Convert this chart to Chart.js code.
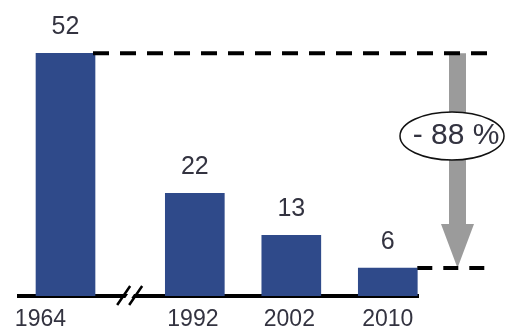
<!DOCTYPE html>
<html>
<head>
<meta charset="utf-8">
<script src="https://cdn.jsdelivr.net/npm/chart.js@4/dist/chart.umd.min.js"></script>
<style>
  body { margin: 0; background: #fff; }
  #wrap { width: 506px; height: 329px; }
</style>
</head>
<body>
<div id="wrap"><canvas id="chart" width="506" height="329"></canvas></div>
<script>
const years = ['1964', '1992', '2002', '2010'];
const values = [52, 22, 13, 6];
// x slots on a linear axis, the gap after 1964 is the axis break
const slots = [0, 1.34, 2.34, 3.34];
const tickSlots = [-0.26, 1.32, 2.32, 3.34];
const changeLabel = '- 88 %';

const barColor = '#2f4a8a';
const textColor = '#333340';

const overlay = {
  id: 'overlay',
  afterDatasetsDraw(chart) {
    const ctx = chart.ctx;
    const y = chart.scales.y;
    const area = chart.chartArea;
    const bars = chart.getDatasetMeta(0).data;
    const first = bars[0], last = bars[bars.length - 1];
    const yTop = y.getPixelForValue(values[0]);
    const yLow = y.getPixelForValue(values[values.length - 1]);
    const endX = area.right + 70;
    const arrowX = area.right + 39.5;

    ctx.save();

    // value labels
    ctx.fillStyle = textColor;
    ctx.font = '25px "Liberation Sans", Arial, sans-serif';
    ctx.textAlign = 'center';
    ctx.textBaseline = 'alphabetic';
    bars.forEach((b, i) => {
      ctx.fillText(String(values[i]), b.x, b.y - 19);
    });

    // grey arrow
    ctx.fillStyle = '#9b9b9b';
    const headY = yLow - 44;
    ctx.beginPath();
    ctx.moveTo(arrowX - 8.5, yTop);
    ctx.lineTo(arrowX + 8.5, yTop);
    ctx.lineTo(arrowX + 8.5, headY);
    ctx.lineTo(arrowX + 16.5, headY);
    ctx.lineTo(arrowX, yLow);
    ctx.lineTo(arrowX - 16.5, headY);
    ctx.lineTo(arrowX - 8.5, headY);
    ctx.closePath();
    ctx.fill();

    // dashed reference lines
    ctx.strokeStyle = '#000';
    ctx.lineWidth = 4;
    ctx.setLineDash([16, 11]);
    ctx.beginPath();
    ctx.moveTo(first.x + first.width / 2 - 2, yTop);
    ctx.lineTo(endX, yTop);
    ctx.stroke();
    ctx.setLineDash([15, 11]);
    ctx.beginPath();
    ctx.moveTo(last.x + last.width / 2, yLow);
    ctx.lineTo(endX, yLow);
    ctx.stroke();
    ctx.setLineDash([]);

    // ellipse with the change
    const ex = arrowX - 5.5, ey = 136;
    ctx.beginPath();
    ctx.ellipse(ex, ey, 52, 24, 0, 0, Math.PI * 2);
    ctx.fillStyle = '#fff';
    ctx.fill();
    ctx.lineWidth = 1.5;
    ctx.strokeStyle = '#111';
    ctx.stroke();
    ctx.fillStyle = textColor;
    ctx.font = '30px "Liberation Sans", Arial, sans-serif';
    ctx.textBaseline = 'middle';
    ctx.fillText(changeLabel, ex + 4, ey);

    // axis break
    const bx = (first.x + first.width / 2 + bars[1].x - bars[1].width / 2) / 2;
    const by = area.bottom;
    ctx.fillStyle = '#fff';
    ctx.beginPath();
    ctx.moveTo(bx - 9, by + 8);
    ctx.lineTo(bx + 2, by - 8);
    ctx.lineTo(bx + 8, by - 8);
    ctx.lineTo(bx - 3, by + 8);
    ctx.closePath();
    ctx.fill();
    ctx.strokeStyle = '#000';
    ctx.lineWidth = 2.5;
    ctx.beginPath();
    ctx.moveTo(bx - 13, by + 9);
    ctx.lineTo(bx + 0, by - 10);
    ctx.moveTo(bx - 1, by + 9);
    ctx.lineTo(bx + 12, by - 10);
    ctx.stroke();

    ctx.restore();
  }
};

const ctx = document.getElementById('chart').getContext('2d');
new Chart(ctx, {
  type: 'bar',
  data: {
    datasets: [{
      data: years.map((yr, i) => ({ x: slots[i], y: values[i] })),
      backgroundColor: barColor,
      barThickness: 59
    }]
  },
  options: {
    responsive: false,
    animation: false,
    layout: { padding: { left: 19, right: 88, top: 16, bottom: -14 } },
    plugins: { legend: { display: false }, tooltip: { enabled: false } },
    scales: {
      x: {
        type: 'linear',
        offset: false,
        min: -0.482,
        max: 3.653,
        grid: { display: false, drawTicks: false },
        border: { display: true, color: '#000', width: 4 },
        afterBuildTicks(scale) {
          scale.ticks = tickSlots.map(v => ({ value: v }));
        },
        ticks: {
          autoSkip: false,
          maxRotation: 0,
          padding: 12,
          color: textColor,
          font: { family: '"Liberation Sans", Arial, sans-serif', size: 23, lineHeight: 1 },
          callback: (v) => {
            const i = tickSlots.indexOf(v);
            return i >= 0 ? years[i] : '';
          }
        }
      },
      y: {
        display: false,
        min: 0,
        max: 60
      }
    }
  },
  plugins: [overlay]
});
</script>
</body>
</html>
